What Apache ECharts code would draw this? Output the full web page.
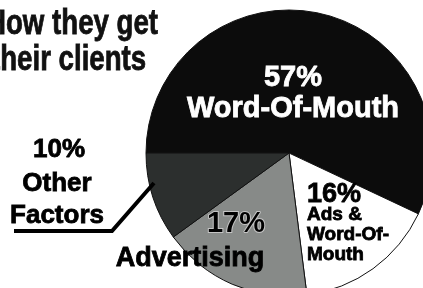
<!DOCTYPE html>
<html>
<head>
<meta charset="utf-8">
<script src="https://cdn.jsdelivr.net/npm/echarts@6/dist/echarts.min.js"></script>
<style>
  html, body { margin: 0; padding: 0; background: #fff; }
  #chart { width: 423px; height: 288px; }
</style>
</head>
<body>
<div id="chart"></div>
<script>
// How they get their clients (pie)
const titleLines = ['How they get', 'their clients'];
const categories = ['Word-Of-Mouth', 'Ads & Word-Of-Mouth', 'Advertising', 'Other Factors'];
const shares = [57, 16, 17, 10];
const nameLines = [['Word-Of-Mouth'], ['Ads &', 'Word-Of-', 'Mouth'], ['Advertising'], ['Other', 'Factors']];

const colors = ['#0c0c0c', '#ffffff', '#878a88', '#2c2f2e'];
const boldFont = "'Liberation Sans', Arial, sans-serif";

const chart = echarts.init(document.getElementById('chart'));

// heavy text: bold face plus a thin stroke of the same colour
function txt(text, x, y, size, opts, extra) {
  const fill = (opts && opts.fill) || '#000';
  return Object.assign({
    type: 'text',
    x: x,
    y: y,
    silent: true,
    z: 100,
    style: Object.assign({
      text: text,
      fill: fill,
      stroke: fill,
      lineWidth: 0.8,
      font: 'bold ' + size + 'px ' + boldFont,
      align: 'center',
      verticalAlign: 'middle'
    }, opts || {})
  }, extra || {});
}

const pct = shares.map(v => v + '%');

const graphics = [
  // title, squeezed to look like a condensed face
  txt(titleLines[0], -14, 24.5, 35, { align: 'left', fill: '#111' }, { scaleX: 0.79 }),
  txt(titleLines[1], -9, 60.5, 35, { align: 'left', fill: '#111' }, { scaleX: 0.79 }),
  // leader line for "Other Factors"
  {
    type: 'polyline',
    silent: true,
    z: 90,
    shape: { points: [[154, 183], [112, 231], [14, 231]] },
    style: { stroke: '#000', lineWidth: 4, lineJoin: 'miter', fill: null }
  },
  txt(pct[0], 293, 78, 29, { fill: '#fff' }),
  txt(nameLines[0].join('\n'), 293, 109, 29, { fill: '#fff' }),
  txt(pct[1], 307, 195, 27, { align: 'left' }),
  txt(nameLines[1].join('\n'), 307, 235, 19, { align: 'left', lineHeight: 20 }),
  txt(pct[2], 236, 224, 29, { stroke: '#c4c4c4', lineWidth: 2 }),
  txt(nameLines[2].join('\n'), 190, 259, 27),
  txt(pct[3], 59, 150, 26),
  txt(nameLines[3].join('\n'), 57, 200, 26, { lineHeight: 32 })
];

const option = {
  backgroundColor: '#fff',
  animation: false,
  series: [{
    type: 'pie',
    center: [289, 153],
    radius: 143,
    startAngle: 180,
    clockwise: true,
    silent: true,
    label: { show: false },
    labelLine: { show: false },
    itemStyle: { borderColor: '#111', borderWidth: 1 },
    data: categories.map((name, i) => ({
      name: name,
      value: shares[i],
      itemStyle: { color: colors[i] }
    }))
  }],
  graphic: graphics
};

chart.setOption(option);
</script>
</body>
</html>
